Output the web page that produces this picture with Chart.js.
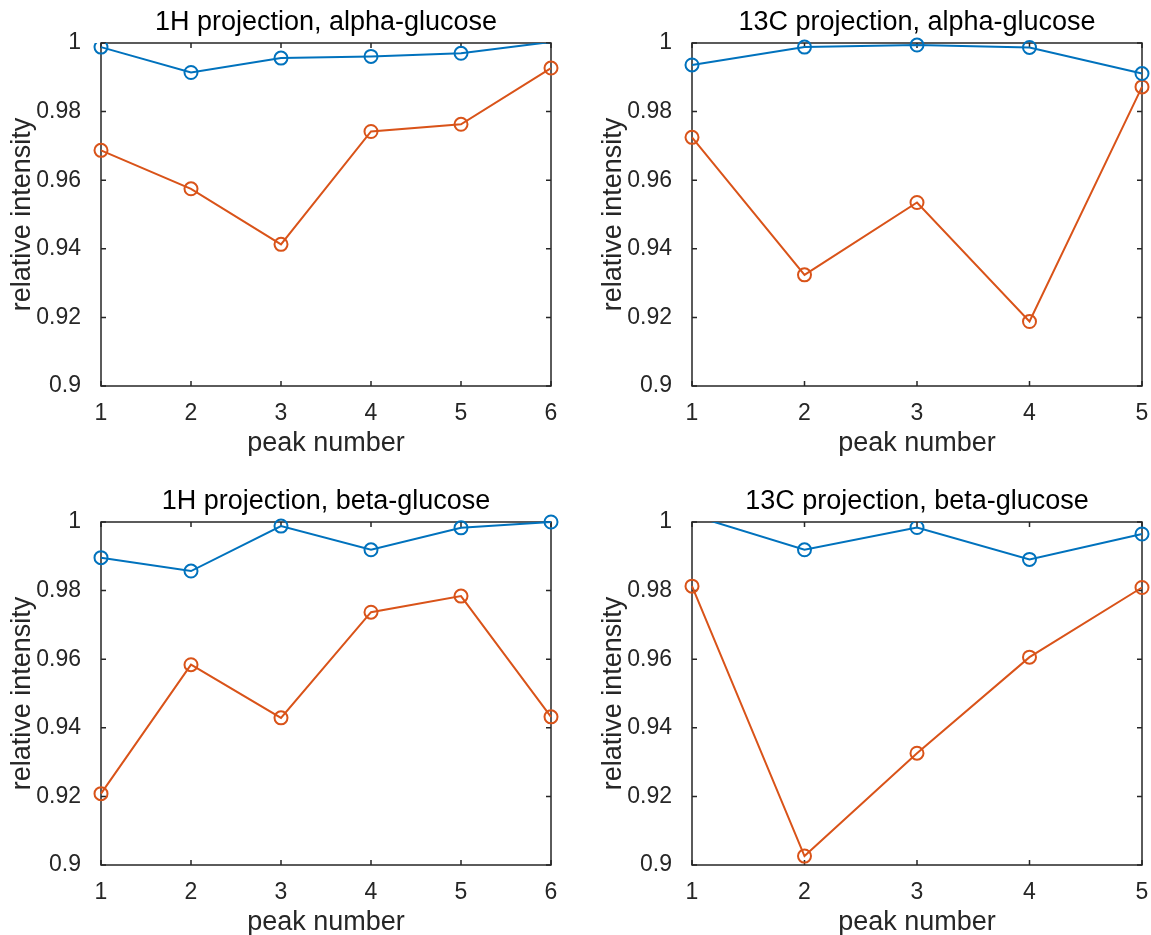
<!DOCTYPE html>
<html lang="en">
<head>
<meta charset="utf-8">
<title>Relative intensity per peak</title>
<style>
    body { margin: 0; background: #fff; }
    .panel { position: absolute; width: 560px; height: 456px; }
</style>
</head>
<body>

<div class="panel" style="left:0;top:0"><canvas id="alpha1H" width="560" height="456"></canvas></div>
<div class="panel" style="left:591px;top:0"><canvas id="alpha13C" width="560" height="456"></canvas></div>
<div class="panel" style="left:0;top:479px"><canvas id="beta1H" width="560" height="456"></canvas></div>
<div class="panel" style="left:591px;top:479px"><canvas id="beta13C" width="560" height="456"></canvas></div>

<script src="https://cdn.jsdelivr.net/npm/chart.js"></script>
<script>
    // peak numbers along x
    var peaks1H = [1, 2, 3, 4, 5, 6];
    var peaks13C = [1, 2, 3, 4, 5];
    var yTicks = [0.9, 0.92, 0.94, 0.96, 0.98, 1];
    var yMin = 0.9, yMax = 1;

    // 1H projection, alpha-glucose
    var alpha1H_blue = [0.9988, 0.9914, 0.9956, 0.9961, 0.9970, 1.0003];
    var alpha1H_red = [0.9687, 0.9575, 0.9413, 0.9742, 0.9763, 0.9927];
    // 13C projection, alpha-glucose
    var alpha13C_blue = [0.9936, 0.9988, 0.9994, 0.9987, 0.9911];
    var alpha13C_red = [0.9725, 0.9324, 0.9535, 0.9188, 0.9872];
    // 1H projection, beta-glucose
    var beta1H_blue = [0.9896, 0.9857, 0.9988, 0.9919, 0.9983, 1.0];
    var beta1H_red = [0.9208, 0.9584, 0.9429, 0.9737, 0.9784, 0.9432];
    // 13C projection, beta-glucose
    var beta13C_blue = [1.002, 0.9919, 0.9984, 0.9891, 0.9965];
    var beta13C_red = [0.9813, 0.9026, 0.9326, 0.9606, 0.9809];

    var BLUE = '#0072BD';
    var RED = '#D95319';
    var AXIS = '#262626';
    var FONT = "'Liberation Sans', Arial, sans-serif";

    // box around the plot area with inward ticks on all four sides
    var axesBox = {
        id: 'axesBox',
        beforeDatasetsDraw: function (chart) {
            var a = chart.chartArea, ctx = chart.ctx;
            var xs = chart.scales.x, ys = chart.scales.y;
            var len = 5;
            ctx.save();
            ctx.strokeStyle = AXIS;
            ctx.lineWidth = 1.5;
            ctx.strokeRect(a.left, a.top, a.right - a.left, a.bottom - a.top);
            ctx.beginPath();
            xs.ticks.forEach(function (t) {
                var px = xs.getPixelForValue(t.value);
                ctx.moveTo(px, a.bottom); ctx.lineTo(px, a.bottom - len);
                ctx.moveTo(px, a.top); ctx.lineTo(px, a.top + len);
            });
            ys.ticks.forEach(function (t) {
                var py = ys.getPixelForValue(t.value);
                ctx.moveTo(a.left, py); ctx.lineTo(a.left + len, py);
                ctx.moveTo(a.right, py); ctx.lineTo(a.right - len, py);
            });
            ctx.stroke();
            ctx.restore();
        }
    };

    function series(xs, ys, color) {
        var over = ys.some(function (v) { return v > yMax; });
        return {
            data: xs.map(function (x, i) { return {x: x, y: ys[i]}; }),
            borderColor: color,
            backgroundColor: 'transparent',
            borderWidth: 2,
            pointBorderColor: color,
            pointBackgroundColor: 'transparent',
            pointBorderWidth: 2,
            // markers above the axis limit are not drawn
            pointRadius: function (c) { return c.raw && c.raw.y > yMax ? 0 : 6.5; },
            tension: 0,
            clip: {left: 10, right: 10, bottom: 10, top: over ? 0 : 10}
        };
    }

    function makePlot(id, title, xs, blue, red) {
        new Chart(document.getElementById(id), {
            type: 'line',
            data: {
                datasets: [series(xs, blue, BLUE), series(xs, red, RED)]
            },
            options: {
                responsive: false,
                animation: false,
                devicePixelRatio: 1,
                layout: { padding: {left: 0, right: 9, top: 0, bottom: 0} },
                plugins: {
                    legend: { display: false },
                    tooltip: { enabled: false },
                    title: {
                        display: true,
                        text: title,
                        fullSize: false,
                        color: '#000',
                        font: { family: FONT, size: 27, weight: 'normal' },
                        padding: { top: 6, bottom: 4.6 }
                    }
                },
                scales: {
                    x: {
                        type: 'linear',
                        min: xs[0],
                        max: xs[xs.length - 1],
                        grid: { display: false },
                        border: { display: false },
                        afterBuildTicks: function (s) {
                            s.ticks = xs.map(function (v) { return {value: v}; });
                        },
                        afterFit: function (s) {
                            s.height = 70;
                            s.paddingLeft = 0;
                            s.paddingRight = 0;
                        },
                        ticks: {
                            color: AXIS,
                            font: { family: FONT, size: 23 },
                            padding: 6,
                            autoSkip: false,
                            maxRotation: 0,
                            callback: function (v) { return String(v); }
                        },
                        title: {
                            display: true,
                            text: 'peak number',
                            color: AXIS,
                            font: { family: FONT, size: 27 },
                            padding: { top: 0, bottom: -4 }
                        }
                    },
                    y: {
                        type: 'linear',
                        min: yMin,
                        max: yMax,
                        grid: { display: false },
                        border: { display: false },
                        afterBuildTicks: function (s) {
                            s.ticks = yTicks.map(function (v) { return {value: v}; });
                        },
                        afterFit: function (s) {
                            s.width = 101;
                            s.paddingTop = 0;
                            s.paddingBottom = 0;
                        },
                        ticks: {
                            color: AXIS,
                            font: { family: FONT, size: 23 },
                            padding: 12,
                            callback: function (v) { return String(+v.toFixed(2)); }
                        },
                        title: {
                            display: true,
                            text: 'relative intensity',
                            color: AXIS,
                            font: { family: FONT, size: 27 },
                            padding: { top: 6, bottom: 0 }
                        }
                    }
                }
            },
            plugins: [axesBox]
        });
    }

    makePlot('alpha1H', '1H projection, alpha-glucose', peaks1H, alpha1H_blue, alpha1H_red);
    makePlot('alpha13C', '13C projection, alpha-glucose', peaks13C, alpha13C_blue, alpha13C_red);
    makePlot('beta1H', '1H projection, beta-glucose', peaks1H, beta1H_blue, beta1H_red);
    makePlot('beta13C', '13C projection, beta-glucose', peaks13C, beta13C_blue, beta13C_red);
</script>
</body>
</html>
